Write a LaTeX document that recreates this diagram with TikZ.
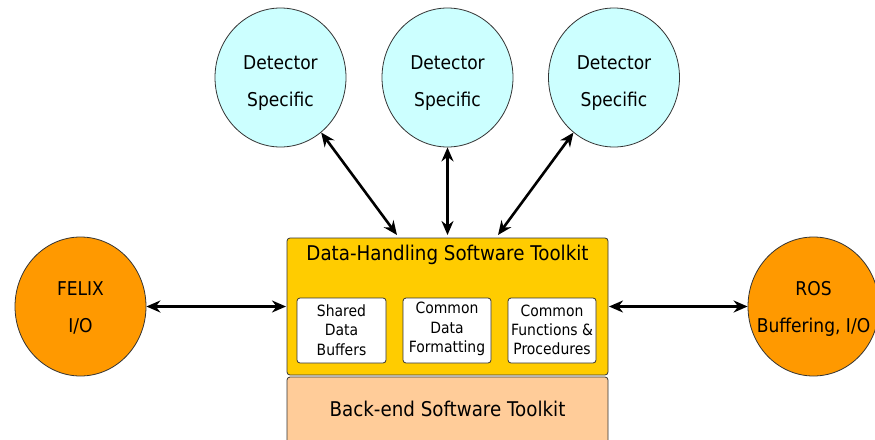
\documentclass[tikz,border=0pt]{standalone}
\usepackage{fontspec}
\setmainfont{DejaVu Sans}[FakeStretch=0.9]
\usetikzlibrary{arrows.meta,shapes.geometric}
\definecolor{cyanfill}{HTML}{CCFFFF}
\definecolor{orangefill}{HTML}{FF9900}
\definecolor{yellowfill}{HTML}{FFCC00}
\definecolor{peachfill}{HTML}{FFCC99}
\definecolor{edgegray}{HTML}{333333}
\tikzset{
  bubble/.style={ellipse, draw=edgegray, line width=0.8pt, minimum width=131pt, minimum height=139pt, inner sep=0pt},
  bigtxt/.style={align=center, font=\fontsize{19}{37}\selectfont, inner sep=0pt},
  headtxt/.style={align=center, font=\fontsize{20.3}{24}\selectfont, inner sep=0pt},
  smalltxt/.style={align=center, font=\fontsize{15.5}{19.3}\selectfont, inner sep=0pt},
  inbox/.style={draw=edgegray, fill=white, rounded corners=3pt, line width=0.8pt},
  conn/.style={line width=2.6pt, {Stealth[length=14pt,width=12pt]}-{Stealth[length=14pt,width=12pt]}},
}
\begin{document}
\begin{tikzpicture}[x=1pt,y=-1pt]
\useasboundingbox (0,0) rectangle (875,439);
\begin{scope}
\clip (0,0) rectangle (875,439);
% detector circles
\node[bubble, fill=cyanfill] (d1) at (280.5,77.5) {};
\node[bubble, fill=cyanfill] (d2) at (447.5,77.5) {};
\node[bubble, fill=cyanfill] (d3) at (614,77.5) {};
\node[bigtxt] (d1t) at (280.5,83.5) {Detector\\Specific};
\node[bigtxt] (d2t) at (447.5,83.5) {Detector\\Specific};
\node[bigtxt] (d3t) at (614,83.5) {Detector\\Specific};
% side circles
\node[bubble, fill=orangefill] (fx) at (80.5,306.5) {};
\node[bigtxt] (fxt) at (80.5,307.5) {FELIX\\I/O};
\node[bubble, fill=orangefill] (ros) at (813.5,306.5) {};
\node[bigtxt] (rost) at (813.5,308.5) {ROS\\Buffering, I/O};
% boxes
\draw[draw=edgegray, fill=peachfill, rounded corners=3pt, line width=0.8pt] (287,377) rectangle (608,450);
\node[headtxt] (be) at (447.5,409) {Back-end Software Toolkit};
\draw[draw=edgegray, fill=yellowfill, rounded corners=3pt, line width=0.8pt] (287,238) rectangle (608,375);
\node[headtxt] (dht) at (447.5,255) {Data-Handling Software Toolkit};
\draw[inbox] (297,298) rectangle (386,363);
\draw[inbox] (403,298) rectangle (491,363);
\draw[inbox] (508,298) rectangle (596,363);
\node[smalltxt] (b1) at (341.5,330) {Shared\\Data\\Buffers};
\node[smalltxt] (b2) at (447,329) {Common\\Data\\Formatting};
\node[smalltxt] (b3) at (552,330) {Common\\Functions \&\\Procedures};
% connector endpoints on the box
\coordinate (t1) at (397,235);
\coordinate (t2) at (447.5,235);
\coordinate (t3) at (498,235);
\coordinate (lw) at (286,306.5);
\coordinate (re) at (609,306.5);
% connectors
\draw[conn] (d1) -- (t1);
\draw[conn] (d2) -- (t2);
\draw[conn] (d3) -- (t3);
\draw[conn] (fx.east) -- (lw);
\draw[conn] (re) -- (ros.west);
\end{scope}
\end{tikzpicture}
\end{document}
